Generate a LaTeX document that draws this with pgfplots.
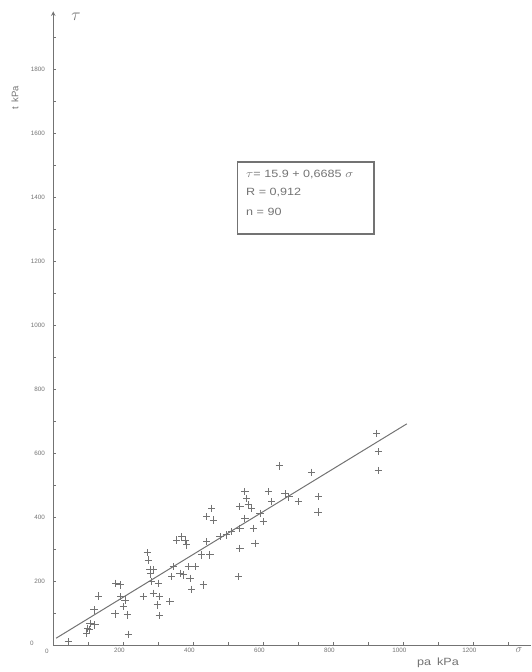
\documentclass[border=0pt]{standalone}
\usepackage{pgfplots}
\pgfplotsset{compat=1.18}
\usepackage{pgfplotstable}
\usepackage{fontspec}
\setmainfont{Liberation Sans}
\definecolor{ink}{gray}{0.45}
\pgfplotstableread{
s t
42.9 10.3
95.4 36.6
98.3 52.2
102.3 46.9
104.9 67.8
119.1 62.5
116.3 109.4
128.6 153.1
176.3 96.9
179.1 192.8
190.6 187.5
193.4 150.9
200.0 119.7
211.4 93.8
214.3 33.4
204.9 140.6
257.1 150.9
268.6 288.4
271.4 265.6
276.3 236.6
285.7 234.4
277.7 221.9
281.1 197.8
285.7 161.6
300.0 192.8
302.9 150.9
297.1 125.0
302.9 91.6
333.4 135.3
338.3 213.4
342.9 244.7
352.6 328.1
366.9 338.4
381.1 312.5
376.3 328.1
362.0 224.1
371.4 218.8
390.6 208.4
385.7 244.7
404.9 244.7
395.4 174.1
428.6 187.5
424.0 281.3
438.3 322.8
447.7 281.3
452.6 427.2
438.3 400.9
457.1 390.6
476.3 338.4
495.4 343.8
509.7 354.1
533.4 364.7
528.6 213.4
533.4 302.2
533.4 432.2
547.7 479.1
552.6 458.4
557.1 437.5
547.7 395.9
571.4 364.7
576.3 317.8
566.9 428.1
590.6 411.6
600.0 385.3
614.3 479.1
624.0 447.8
645.7 559.4
662.0 471.9
673.4 462.5
700.0 447.8
738.3 539.7
757.1 464.1
756.3 415.6
924.0 660.9
928.6 604.1
928.6 545.3
}\pts
\begin{document}
\begin{tikzpicture}
\path[use as bounding box] (0pt,0pt) rectangle (531pt,672pt);
\begin{axis}[
  at={(53.3pt,27pt)}, anchor=south west,
  x=0.35pt, y=0.32pt,
  xmin=0, xmax=1365, ymin=0, ymax=1980,
  axis x line=bottom, axis y line=left,
  x axis line style={-},
  y axis line style={-stealth},
  axis line style={draw=ink, line width=1pt},
  xtick={200,400,...,1200}, ytick={200,400,...,1800},
  minor xtick={100,300,...,1300}, minor ytick={100,300,...,1900},
  tick align=inside, major tick length=3pt, minor tick length=3pt,
  tick style={draw=ink, line width=0.7pt},
  ticklabel style={font=\fontsize{6.3}{6.3}\selectfont, text=ink},
  /pgf/number format/assume math mode=true,
  /pgf/number format/1000 sep={},
  xticklabel style={xshift=-4pt},
  yticklabel style={xshift=-5pt},
  clip=false,
]
\addplot[only marks, mark=+, mark size=3.6pt, draw=ink, line width=1pt] table {\pts};
\addplot[ink, line width=1pt, no marks] coordinates {(8,21.2) (1010,691.1)};
\end{axis}
\node[text=ink, font=\fontsize{6.3}{6.3}\selectfont] at (32pt,29pt) {0};
\node[text=ink, font=\fontsize{6.3}{6.3}\selectfont] at (47pt,21pt) {0};
\node[text=ink] at (76pt,655pt) {\fontsize{18}{18}\selectfont$\tau$};
\node[text=ink] at (519pt,22pt) {\fontsize{11}{11}\selectfont$\sigma$};
\node[text=ink, rotate=90, font=\fontsize{9.5}{9.5}\selectfont] at (15pt,574pt) {t\hspace{5pt}kPa};
\node[text=ink, xscale=1.2, font=\fontsize{10.5}{10.5}\selectfont] at (438pt,9pt) {pa\hspace{5pt}kPa};
\draw[ink, line width=1.1pt] (237.5pt,510pt) rectangle (374pt,438pt);
\node[text=ink, anchor=west, xscale=1.2, font=\fontsize{10.5}{11}\selectfont] at (242pt,497pt) {$\tau$= 15.9 + 0,6685 $\sigma$};
\node[text=ink, anchor=west, xscale=1.2, font=\fontsize{10.5}{11}\selectfont] at (242pt,479pt) {R = 0,912};
\node[text=ink, anchor=west, xscale=1.2, font=\fontsize{10.5}{11}\selectfont] at (242pt,460pt) {n = 90};
\end{tikzpicture}
\end{document}
